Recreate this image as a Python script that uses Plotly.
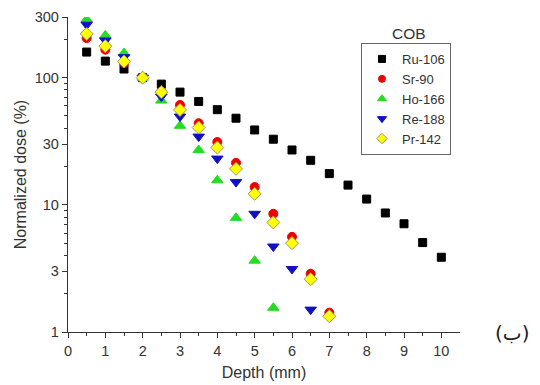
import plotly.graph_objects as go

depth_ru = [0.5, 1, 1.5, 2, 2.5, 3, 3.5, 4, 4.5, 5, 5.5, 6, 6.5, 7, 7.5, 8, 8.5, 9, 9.5, 10]
ru106 = [159, 135, 117, 100, 89, 77, 65, 56, 48, 38.8, 32.8, 27, 22.4, 17.6, 14.3, 11.1, 8.63, 7.1, 5.05, 3.87]

depth_sr = [0.5, 1, 1.5, 2, 2.5, 3, 3.5, 4, 4.5, 5, 5.5, 6, 6.5, 7]
sr90 = [205, 166, 130, 100, 78, 61, 43.8, 31.2, 21.4, 13.8, 8.5, 5.6, 2.87, 1.42]

depth_ho = [0.5, 1, 1.5, 2, 2.5, 3, 3.5, 4, 4.5, 5, 5.5]
ho166 = [287, 215, 156, 100, 66, 41.8, 27, 15.6, 7.9, 3.64, 1.55]

depth_re = [0.5, 1, 1.5, 2, 2.5, 3, 3.5, 4, 4.5, 5, 5.5, 6, 6.5]
re188 = [261, 196, 145, 100, 71, 49.5, 34.4, 23.1, 15.1, 8.5, 4.7, 3.13, 1.50]

depth_pr = [0.5, 1, 1.5, 2, 2.5, 3, 3.5, 4, 4.5, 5, 5.5, 6, 6.5, 7]
pr142 = [221, 177, 134, 100, 77, 55.8, 40.5, 28.2, 19.2, 12.2, 7.27, 5.0, 2.6, 1.33]

y_tickvals = [1, 3, 10, 30, 100, 300]
y_ticktext = ["1", "3", "10", "30", "100", "300"]
y_minor = [2, 4, 5, 6, 7, 8, 9, 20, 40, 50, 60, 70, 80, 90, 200]
x_tickvals = list(range(0, 11))

FONT = "Liberation Sans, Arial, sans-serif"
TXT = "#333333"

L, R, T, B = 68, 80, 17, 53
W, H = 540, 385
pw = W - L - R
ph = H - T - B


def px2paper(px, py):
    return (px - L) / pw, (H - B - py) / ph


fig = go.Figure()
series = [
    ("Ru-106", depth_ru, ru106, "square", "#000000", "#000000", 8, 7),
    ("Sr-90", depth_sr, sr90, "circle", "#ee0000", "#ee0000", 9, 7),
    ("Ho-166", depth_ho, ho166, "triangle-up", "#22dd22", "#22dd22", 10, 8),
    ("Re-188", depth_re, re188, "triangle-down", "#1010c8", "#1010c8", 10, 8),
    ("Pr-142", depth_pr, pr142, "diamond", "#ffff00", "#999966", 10, 8),
]
for name, xs, ys, sym, fc, lc, sz, lsz in series:
    fig.add_trace(go.Scatter(
        x=xs, y=ys, mode="markers", name=name, showlegend=False,
        marker=dict(symbol=sym, color=fc, size=sz, line=dict(color=lc, width=1)),
    ))
    # legend-only entry with smaller symbol (no data drawn)
    fig.add_trace(go.Scatter(
        x=[None], y=[None], mode="markers", name=name, showlegend=True,
        marker=dict(symbol=sym, color=fc, size=lsz, line=dict(color=lc, width=1)),
    ))

lx, ly = px2paper(361, 43)
cx, cy = px2paper(409, 33)
bx, by = px2paper(512, 333)

fig.update_layout(
    width=W, height=H,
    margin=dict(l=L, r=R, t=T, b=B, autoexpand=False),
    paper_bgcolor="white", plot_bgcolor="white",
    font=dict(family=FONT, size=14, color=TXT),
    showlegend=True,
    legend=dict(
        x=lx, y=ly, xanchor="left", yanchor="top",
        bordercolor="#666666", borderwidth=1, bgcolor="white",
        font=dict(family=FONT, size=13, color=TXT),
        itemwidth=30, tracegroupgap=0, itemsizing="trace",
    ),
    xaxis=dict(
        range=[0, 10.5], tickvals=x_tickvals, showgrid=False, zeroline=False,
        showline=True, linecolor="#333333", linewidth=1.3,
        ticks="outside", ticklen=5, tickwidth=1.3, tickcolor="#333333",
        tickfont=dict(size=14.5, color=TXT), automargin=False,
        minor=dict(tickvals=[0.5 + i for i in range(10)], ticks="outside",
                   ticklen=3, tickwidth=1.2, tickcolor="#333333", showgrid=False),
        title=dict(text="Depth (mm)", font=dict(size=16, color=TXT), standoff=9),
    ),
    yaxis=dict(
        type="log", range=[0, 2.4771], tickvals=y_tickvals, ticktext=y_ticktext,
        showgrid=False, zeroline=False,
        showline=True, linecolor="#333333", linewidth=1.3,
        ticks="outside", ticklen=5, tickwidth=1.3, tickcolor="#333333",
        tickfont=dict(size=14.5, color=TXT), automargin=False,
        minor=dict(tickvals=y_minor, ticks="outside", ticklen=3, tickwidth=1.2,
                   tickcolor="#333333", showgrid=False),
        title=dict(text="Normalized dose (%)", font=dict(size=16, color=TXT), standoff=4),
    ),
    annotations=[
        dict(text="COB", x=cx, y=cy, xref="paper", yref="paper", showarrow=False,
             xanchor="center", yanchor="middle", font=dict(size=15.5, color=TXT)),
        dict(text="(ب)", x=bx, y=by, xref="paper", yref="paper", showarrow=False,
             xanchor="center", yanchor="middle",
             font=dict(family="DejaVu Sans, sans-serif", size=20, color="#222222")),
    ],
)

fig.write_html("out.html")
